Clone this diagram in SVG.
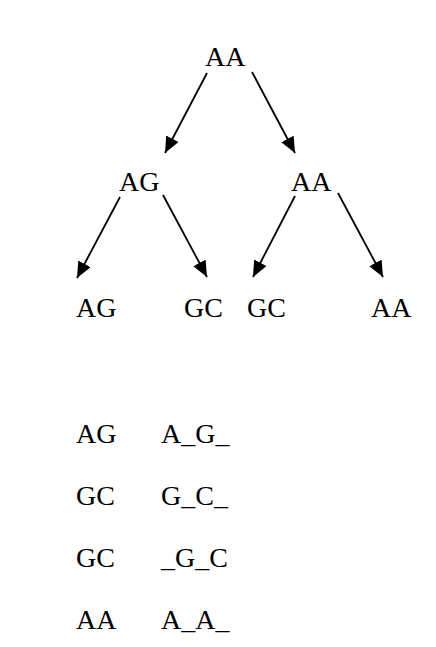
<svg xmlns="http://www.w3.org/2000/svg" width="436" height="647" viewBox="0 0 436 647">
<style>
text{font-family:"Liberation Serif","Times New Roman",serif;font-size:28px;fill:#000}
.e{stroke:#000;stroke-width:1.8;fill:none;marker-end:url(#ah)}
</style>
<defs>
<marker id="ah" markerUnits="userSpaceOnUse" markerWidth="18" markerHeight="16" refX="16" refY="7" orient="auto">
<path d="M0,0 L16,7 L0,14 Z" fill="#000"/>
</marker>
</defs>
<rect width="436" height="647" fill="#fff"/>
<g id="connectors">
<line class="e" x1="207" y1="73" x2="165" y2="153"/>
<line class="e" x1="252" y1="72" x2="295" y2="153"/>
<line class="e" x1="120" y1="197" x2="77" y2="278"/>
<line class="e" x1="163" y1="195" x2="207" y2="277"/>
<line class="e" x1="295" y1="196" x2="253" y2="277"/>
<line class="e" x1="338" y1="193" x2="383" y2="277"/>
</g>
<g id="n_root"><text x="205" y="66">AA</text></g>
<g id="n_ag"><text x="119" y="191">AG</text></g>
<g id="n_aa"><text x="291" y="191">AA</text></g>
<g id="n_ag2"><text x="76" y="317">AG</text></g>
<g id="n_gc1"><text x="184" y="317">GC</text></g>
<g id="n_gc2"><text x="247" y="317">GC</text></g>
<g id="n_aa2"><text x="371" y="317">AA</text></g>
<g id="list">
<text x="76" y="443">AG</text><text x="161" y="443">A_G_</text>
<text x="76" y="505">GC</text><text x="161" y="505">G_C_</text>
<text x="76" y="567">GC</text><text x="161" y="567">_G_C</text>
<text x="76" y="629">AA</text><text x="161" y="629">A_A_</text>
</g>
</svg>
